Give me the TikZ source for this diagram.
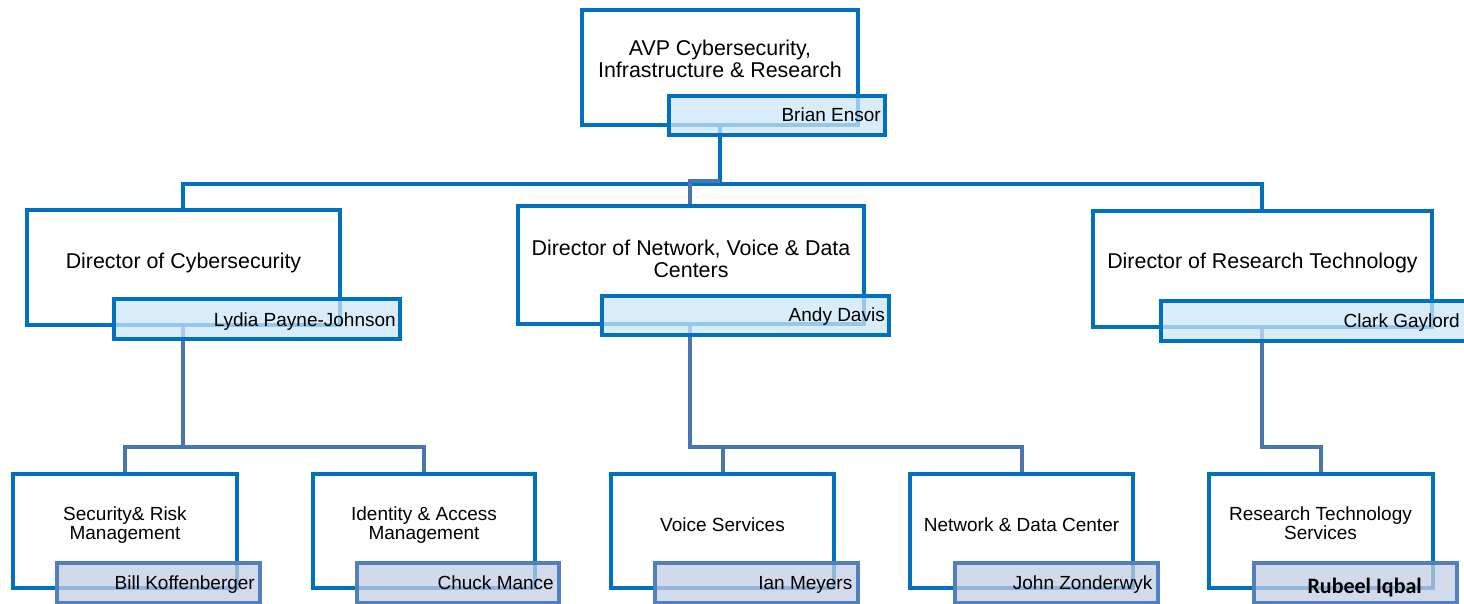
\documentclass[tikz,border=0pt]{standalone}
\usepackage{fontspec}
\setmainfont{Liberation Sans}
\newfontfamily\carlito{Carlito}
\definecolor{mainblue}{RGB}{0,112,192}
\definecolor{steel}{RGB}{74,118,176}
\definecolor{subborder}{RGB}{80,128,190}
\definecolor{headfill}{RGB}{204,230,248}
\definecolor{subfill}{RGB}{196,206,228}
\tikzset{
  unitbox/.style={draw=mainblue, line width=4pt, fill=white, rectangle, inner sep=0pt},
  headname/.style={draw=mainblue, line width=4pt, fill=headfill, fill opacity=0.75, text opacity=1, rectangle, inner sep=0pt},
  subname/.style={draw=subborder, line width=4pt, fill=subfill, fill opacity=0.75, text opacity=1, rectangle, inner sep=0pt},
  bigtitle/.style={align=center, inner sep=0pt, font=\fontsize{21.4}{22}\selectfont},
  smalltitle/.style={align=center, inner sep=0pt, font=\fontsize{19}{18.5}\selectfont},
  person/.style={inner sep=0pt, anchor=base east, font=\fontsize{19}{20}\selectfont},
  topcon/.style={draw=mainblue, line width=4pt},
  lowcon/.style={draw=steel, line width=4pt}
}
\begin{document}
\begin{tikzpicture}[x=1pt,y=-1pt]
\useasboundingbox (0,0) rectangle (1464,603);
\clip (0,0) rectangle (1464,603);

% main boxes
\node[unitbox, minimum width=276, minimum height=115] (avp) at (720,67.5) {};
\node[unitbox, minimum width=313, minimum height=115] (d1) at (183.5,267.5) {};
\node[unitbox, minimum width=346, minimum height=118] (d2) at (691,265) {};
\node[unitbox, minimum width=339, minimum height=116] (d3) at (1262.5,269) {};
\node[unitbox, minimum width=224, minimum height=114] (b1) at (125,531) {};
\node[unitbox, minimum width=222, minimum height=114] (b2) at (424,531) {};
\node[unitbox, minimum width=223, minimum height=114] (b3) at (722.5,531) {};
\node[unitbox, minimum width=223, minimum height=114] (b4) at (1021.5,531) {};
\node[unitbox, minimum width=224, minimum height=114] (b5) at (1320.5,531) {};

% connectors (drawn below name boxes)
\coordinate (top1) at (720,126);
\coordinate (hubM) at (720,184);
\coordinate (hubL) at (183,184);
\coordinate (hubR) at (1262,184);
\coordinate (midA) at (720,181);
\coordinate (midB) at (690,181);
\draw[topcon] (top1) -- (hubM);
\draw[topcon, line join=miter] (d1.north -| hubL) -- (hubL) -- (hubR) -- (d3.north -| hubR);
\draw[lowcon, line join=miter] (midA) -- (midB) -- (d2.north -| midB);

\coordinate (j1) at (183,447);
\coordinate (j2) at (690,447);
\coordinate (j3) at (1022,447);
\coordinate (j4) at (723,447);
\coordinate (j5) at (1262,447);
\coordinate (j6) at (1321,447);
\draw[lowcon] (d1.south -| j1) -- (j1);
\draw[lowcon, line join=miter] (b1.north) -- (b1.north |- j1) -- (b2.north |- j1) -- (b2.north);
\draw[lowcon, line join=miter] (d2.south -| j2) -- (j2) -- (j3) -- (b4.north -| j3);
\draw[lowcon] (j4) -- (b3.north -| j4);
\draw[lowcon, line join=miter] (d3.south -| j5) -- (j5) -- (j6) -- (b5.north -| j6);

% name boxes
\node[headname, minimum width=216, minimum height=39] (avpN) at (777,115.5) {};
\node[headname, minimum width=286, minimum height=40] (d1N) at (257,319) {};
\node[headname, minimum width=287, minimum height=39] (d2N) at (745.5,315.5) {};
\node[headname, minimum width=306, minimum height=40] (d3N) at (1314,321) {};
\node[subname, minimum width=203, minimum height=40] (b1N) at (158.5,583) {};
\node[subname, minimum width=202, minimum height=40] (b2N) at (458,583) {};
\node[subname, minimum width=203, minimum height=40] (b3N) at (756.5,583) {};
\node[subname, minimum width=203, minimum height=40] (b4N) at (1056.5,583) {};
\node[subname, minimum width=203, minimum height=40] (b5N) at (1355.5,583) {};

% titles
\node[bigtitle] (avpT) at (720,58.5) {AVP Cybersecurity,\\Infrastructure \& Research};
\node[bigtitle, anchor=base] (d1T) at (183.5,268) {Director of Cybersecurity};
\node[bigtitle] (d2T) at (691,258.7) {Director of Network, Voice \& Data\\Centers};
\node[bigtitle, anchor=base] (d3T) at (1262.5,268.3) {Director of Research Technology};
\node[smalltitle] (b1T) at (125,525) {Security\& Risk\\Management};
\node[smalltitle] (b2T) at (424,525) {Identity \& Access\\Management};
\node[smalltitle, anchor=base] (b3T) at (722.5,531) {Voice Services};
\node[smalltitle, anchor=base] (b4T) at (1021.5,531) {Network \& Data Center};
\node[smalltitle] (b5T) at (1320.5,523.3) {Research Technology\\Services};

% persons
\node[person] (avpP) at (881,121.7) {Brian Ensor};
\node[person] (d1P) at (396,326) {Lydia Payne-Johnson};
\node[person] (d2P) at (885,321.5) {Andy Davis};
\node[person] (d3P) at (1460,327) {Clark Gaylord};
\node[person] (b1P) at (255,589) {Bill Koffenberger};
\node[person] (b2P) at (554,589) {Chuck Mance};
\node[person] (b3P) at (852.5,589) {Ian Meyers};
\node[person] (b4P) at (1152.5,589) {John Zonderwyk};
\node[person, font=\carlito\bfseries\fontsize{22}{24}\selectfont] (b5P) at (1422,593) {Rubeel Iqbal};
\end{tikzpicture}
\end{document}
